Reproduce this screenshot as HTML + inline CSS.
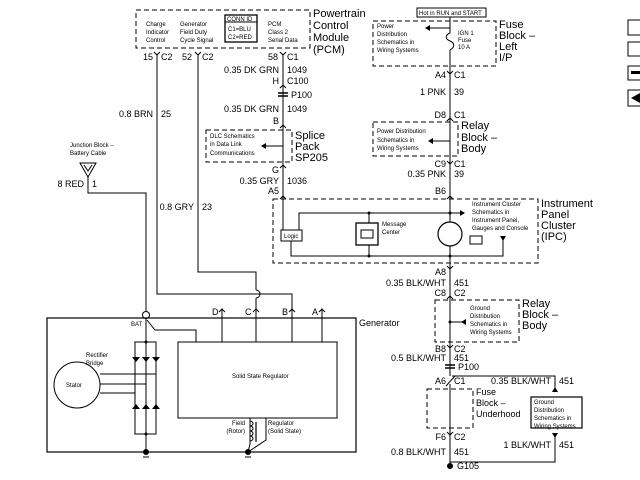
<!DOCTYPE html>
<html><head><meta charset="utf-8"><style>
html,body{margin:0;padding:0;background:#fff;}
svg{display:block;font-family:"Liberation Sans",sans-serif;}
.s{font-size:6px}
.m{font-size:9px}
.l{font-size:11px}
</style></head><body>
<svg width="640" height="480" viewBox="0 0 640 480" xmlns="http://www.w3.org/2000/svg">
<g fill="none" stroke="#000" stroke-width="1">
<rect x="136" y="10" width="174" height="38" stroke-dasharray="5,3"/>
<rect x="225" y="15" width="32" height="27" stroke-width="1.3"/>
<line x1="225" y1="22" x2="257" y2="22"/>
<polyline points="157,54 157,294 292,294 292,318"/>
<polyline points="198,54 198,272 256,272 256,290"/>
<path d="M256,290 a4,4 0 0 1 0,8"/>
<line x1="256" y1="298" x2="256" y2="318"/>
<line x1="283" y1="54" x2="283" y2="230"/>
<line x1="278" y1="93" x2="288" y2="93" stroke-width="1.5"/>
<line x1="278" y1="96" x2="288" y2="96" stroke-width="1.5"/>
<rect x="206" y="130" width="86" height="32" stroke-dasharray="5,3"/>
<line x1="283" y1="146" x2="266" y2="146"/>
<!-- connector Y marks -->
<polyline points="154,52 157,55 160,52"/><polyline points="195,52 198,55 201,52"/><polyline points="280,52 283,55 286,52"/>
<polyline points="280,88 283,85 286,88"/><polyline points="280,128 283,125 286,128"/>
<polyline points="280,168 283,165 286,168"/><polyline points="280,199 283,196 286,199"/>
<polyline points="447,71 450,74 453,71"/><polyline points="447,121 450,118 453,121"/>
<polyline points="447,161 450,164 453,161"/><polyline points="447,199 450,196 453,199"/>
<polyline points="447,266 450,269 453,266"/><polyline points="447,299 450,296 453,299"/>
<polyline points="447,345 450,348 453,345"/><polyline points="447,432 450,435 453,432"/>
<polyline points="219,312 222,309 225,312"/><polyline points="253,312 256,309 259,312"/><polyline points="289,312 292,309 295,312"/><polyline points="319,312 322,309 325,312"/>
<polygon points="80,163 96,163 88,177"/>
<polyline points="84,165 88,171 92,165"/>
<polyline points="88,177 88,193 146,193 146,452"/>
<circle cx="146" cy="315" r="3.5" fill="#fff"/>
<rect x="47" y="318" width="309" height="134" stroke-width="1.2"/>
<rect x="178" y="342" width="159" height="76"/>
<polyline points="147,320 155,330 196,330 196,342"/>
<line x1="222" y1="310" x2="222" y2="342"/><line x1="256" y1="318" x2="256" y2="342"/>
<line x1="292" y1="318" x2="292" y2="342"/><line x1="322" y1="310" x2="322" y2="342"/>
<rect x="135" y="342" width="21" height="92"/>
<circle cx="77" cy="385" r="23"/>
<line x1="100" y1="374" x2="156" y2="374"/>
<line x1="100" y1="384" x2="146" y2="384"/>
<line x1="100" y1="393" x2="135" y2="393"/>
<polyline points="250,418 250,444 248,452"/>
<path d="M250,421 a3,2.5 0 0 1 0,5 a3,2.5 0 0 1 0,5 a3,2.5 0 0 1 0,5 a3,2.5 0 0 1 0,5" />
<line x1="256" y1="422" x2="256" y2="442" stroke="#666" stroke-width="2"/>
<polyline points="266,418 266,440 248,452"/>
<rect x="417" y="8" width="69" height="9"/>
<line x1="450" y1="17" x2="450" y2="33"/>
<path d="M450,33 c-5,2 -5,6 0,8 c5,2 5,6 0,9"/>
<line x1="450" y1="50" x2="450" y2="376"/>
<rect x="373" y="21" width="123" height="45" stroke-dasharray="5,3"/>
<line x1="450" y1="28" x2="430" y2="28"/>
<rect x="373" y="122" width="85" height="34" stroke-dasharray="5,3"/>
<line x1="450" y1="141" x2="433" y2="141"/>
<rect x="273" y="199" width="265" height="64" stroke-dasharray="5,3"/>
<rect x="281" y="230" width="21" height="11" fill="#fff"/>
<polyline points="299,230 299,213 460,213"/>
<polyline points="291,241 291,256 503,256 503,240"/>
<rect x="356" y="223" width="22" height="22" stroke-width="1.3"/>
<rect x="361" y="230" width="12" height="8"/>
<line x1="369" y1="213" x2="369" y2="223"/><line x1="369" y1="245" x2="369" y2="256"/>
<circle cx="450" cy="234" r="12" fill="#fff" stroke-width="1.2"/>
<rect x="470" y="236" width="12" height="8"/>
<rect x="435" y="300" width="84" height="42" stroke-dasharray="5,3"/>
<line x1="466" y1="322" x2="450" y2="322"/>
<line x1="445" y1="365" x2="455" y2="365" stroke-width="1.5"/>
<line x1="445" y1="368" x2="455" y2="368" stroke-width="1.5"/>
<polyline points="455,376 446,386"/>
<polyline points="452,376 555,376 555,392"/>
<line x1="450" y1="384" x2="450" y2="466"/>
<rect x="427" y="389" width="46" height="39" stroke-dasharray="5,3"/>
<rect x="531" y="397" width="51" height="31" stroke-width="1.2"/>
<polyline points="555,433 555,462 450,462"/>
<line x1="143" y1="457" x2="149" y2="457"/><line x1="245" y1="457" x2="251" y2="457"/>
<rect x="628" y="20" width="14" height="15"/><rect x="628" y="42" width="14" height="14"/>
<rect x="628" y="66" width="14" height="14"/><rect x="628" y="90" width="14" height="16"/>
</g>
<g fill="#000">
<polygon points="430,25 425,28 430,31"/><polygon points="433,138 428,141 433,144"/>
<polygon points="266,143 261,146 266,149"/><polygon points="460,210 465,213 460,216"/>
<polygon points="500,236 506,236 503,241"/><polygon points="466,319 466,325 461,322"/>
<polygon points="552,392 558,392 555,387"/><polygon points="552,433 558,433 555,438"/>
<circle cx="146" cy="452" r="3"/><circle cx="248" cy="452" r="3"/><circle cx="450" cy="466" r="3"/>
<circle cx="146" cy="342" r="1.5"/><circle cx="146" cy="434" r="1.5"/><circle cx="369" cy="213" r="1.5"/><circle cx="369" cy="256" r="1.5"/><circle cx="450" cy="213" r="1.5"/><circle cx="450" cy="256" r="1.5"/><circle cx="450" cy="322" r="1.5"/>
<polygon points="132,357 140,357 136,362"/><polygon points="142,357 150,357 146,362"/><polygon points="152,357 160,357 156,362"/>
<polygon points="132,409 140,409 136,404"/><polygon points="142,409 150,409 146,404"/><polygon points="152,409 160,409 156,404"/>
<rect x="631" y="71" width="9" height="3"/><polygon points="631,98 640,93 640,103"/>
</g>
<g class="s">
<text x="146" y="26">Charge</text><text x="146" y="34">Indicator</text><text x="146" y="42">Control</text>
<text x="180" y="26">Generator</text><text x="180" y="34">Field Duty</text><text x="180" y="42">Cycle Signal</text>
<text x="227" y="21">CONN ID</text><text x="228" y="31">C1=BLU</text><text x="228" y="39">C2=RED</text>
<text x="268" y="26">PCM</text><text x="268" y="34">Class 2</text><text x="268" y="42">Serial Data</text>
<text x="210" y="138">DLC Schematics</text><text x="210" y="146">in Data Link</text><text x="210" y="155">Communications</text>
<text x="70" y="147">Junction Block –</text><text x="70" y="155">Battery Cable</text>
<text x="419" y="15">Hot in RUN and START</text>
<text x="377" y="28">Power</text><text x="377" y="36">Distribution</text><text x="377" y="44">Schematics in</text><text x="377" y="52">Wiring Systems</text>
<text x="458" y="35">IGN 1</text><text x="458" y="42">Fuse</text><text x="458" y="49">10 A</text>
<text x="377" y="133">Power Distribution</text><text x="377" y="142">Schematics in</text><text x="377" y="150">Wiring Systems</text>
<text x="284" y="238">Logic</text><text x="382" y="226">Message</text><text x="382" y="234">Center</text>
<text x="472" y="206">Instrument Cluster</text><text x="472" y="214">Schematics in</text><text x="472" y="222">Instrument Panel,</text><text x="472" y="230">Gauges and Console</text>
<text x="470" y="310">Ground</text><text x="470" y="318">Distribution</text><text x="470" y="326">Schematics in</text><text x="470" y="334">Wiring Systems</text>
<text x="534" y="404">Ground</text><text x="534" y="412">Distribution</text><text x="534" y="420">Schematics in</text><text x="534" y="428">Wiring Systems</text>
<text x="131" y="326">BAT</text><text x="86" y="357">Rectifier</text><text x="86" y="365">Bridge</text>
<text x="66" y="387">Stator</text><text x="232" y="378">Solid State Regulator</text>
<text x="245" y="425" text-anchor="end">Field</text><text x="245" y="433" text-anchor="end">(Rotor)</text>
<text x="268" y="425">Regulator</text><text x="268" y="433">(Solid State)</text>
</g>
<g class="m">
<text x="143" y="60">15</text><text x="161" y="60">C2</text>
<text x="182" y="60">52</text><text x="202" y="60">C2</text>
<text x="268" y="60">58</text><text x="287" y="60">C1</text>
<text x="279" y="73" text-anchor="end">0.35 DK GRN</text><text x="287" y="73">1049</text>
<text x="279" y="84" text-anchor="end">H</text><text x="287" y="84">C100</text>
<text x="291" y="98">P100</text>
<text x="279" y="112" text-anchor="end">0.35 DK GRN</text><text x="287" y="112">1049</text>
<text x="279" y="124" text-anchor="end">B</text>
<text x="153" y="117" text-anchor="end">0.8 BRN</text><text x="161" y="117">25</text>
<text x="194" y="210" text-anchor="end">0.8 GRY</text><text x="202" y="210">23</text>
<text x="84" y="187" text-anchor="end">8 RED</text><text x="92" y="187">1</text>
<text x="279" y="173" text-anchor="end">G</text>
<text x="279" y="184" text-anchor="end">0.35 GRY</text><text x="287" y="184">1036</text>
<text x="279" y="194" text-anchor="end">A5</text>
<text x="446" y="78" text-anchor="end">A4</text><text x="454" y="78">C1</text>
<text x="446" y="95" text-anchor="end">1 PNK</text><text x="454" y="95">39</text>
<text x="446" y="118" text-anchor="end">D8</text><text x="454" y="118">C1</text>
<text x="446" y="167" text-anchor="end">C9</text><text x="454" y="167">C1</text>
<text x="446" y="177" text-anchor="end">0.35 PNK</text><text x="454" y="177">39</text>
<text x="446" y="194" text-anchor="end">B6</text>
<text x="446" y="275" text-anchor="end">A8</text>
<text x="446" y="286" text-anchor="end">0.35 BLK/WHT</text><text x="454" y="286">451</text>
<text x="446" y="296" text-anchor="end">C8</text><text x="454" y="296">C2</text>
<text x="446" y="352" text-anchor="end">B8</text><text x="454" y="352">C2</text>
<text x="446" y="361" text-anchor="end">0.5 BLK/WHT</text><text x="454" y="361">451</text>
<text x="458" y="370">P100</text>
<text x="446" y="384" text-anchor="end">A6</text><text x="454" y="384">C1</text>
<text x="551" y="384" text-anchor="end">0.35 BLK/WHT</text><text x="559" y="384">451</text>
<text x="446" y="440" text-anchor="end">F6</text><text x="454" y="440">C2</text>
<text x="551" y="448" text-anchor="end">1 BLK/WHT</text><text x="559" y="448">451</text>
<text x="446" y="455" text-anchor="end">0.8 BLK/WHT</text><text x="454" y="455">451</text>
<text x="457" y="469">G105</text>
<text x="212" y="315">D</text><text x="245" y="315">C</text><text x="282" y="315">B</text><text x="312" y="315">A</text>
<text x="359" y="326">Generator</text>
<text x="476" y="395">Fuse</text><text x="476" y="406">Block –</text><text x="476" y="417">Underhood</text>
</g>
<g class="l">
<text x="313" y="17">Powertrain</text><text x="313" y="29">Control</text><text x="313" y="41">Module</text><text x="313" y="53">(PCM)</text>
<text x="295" y="139">Splice</text><text x="295" y="150">Pack</text><text x="295" y="161">SP205</text>
<text x="499" y="28">Fuse</text><text x="499" y="39">Block –</text><text x="499" y="50">Left</text><text x="499" y="61">I/P</text>
<text x="461" y="129">Relay</text><text x="461" y="141">Block –</text><text x="461" y="152">Body</text>
<text x="541" y="207">Instrument</text><text x="541" y="218">Panel</text><text x="541" y="229">Cluster</text><text x="541" y="240">(IPC)</text>
<text x="522" y="307">Relay</text><text x="522" y="318">Block –</text><text x="522" y="329">Body</text>
</g>
</svg>
</body></html>
